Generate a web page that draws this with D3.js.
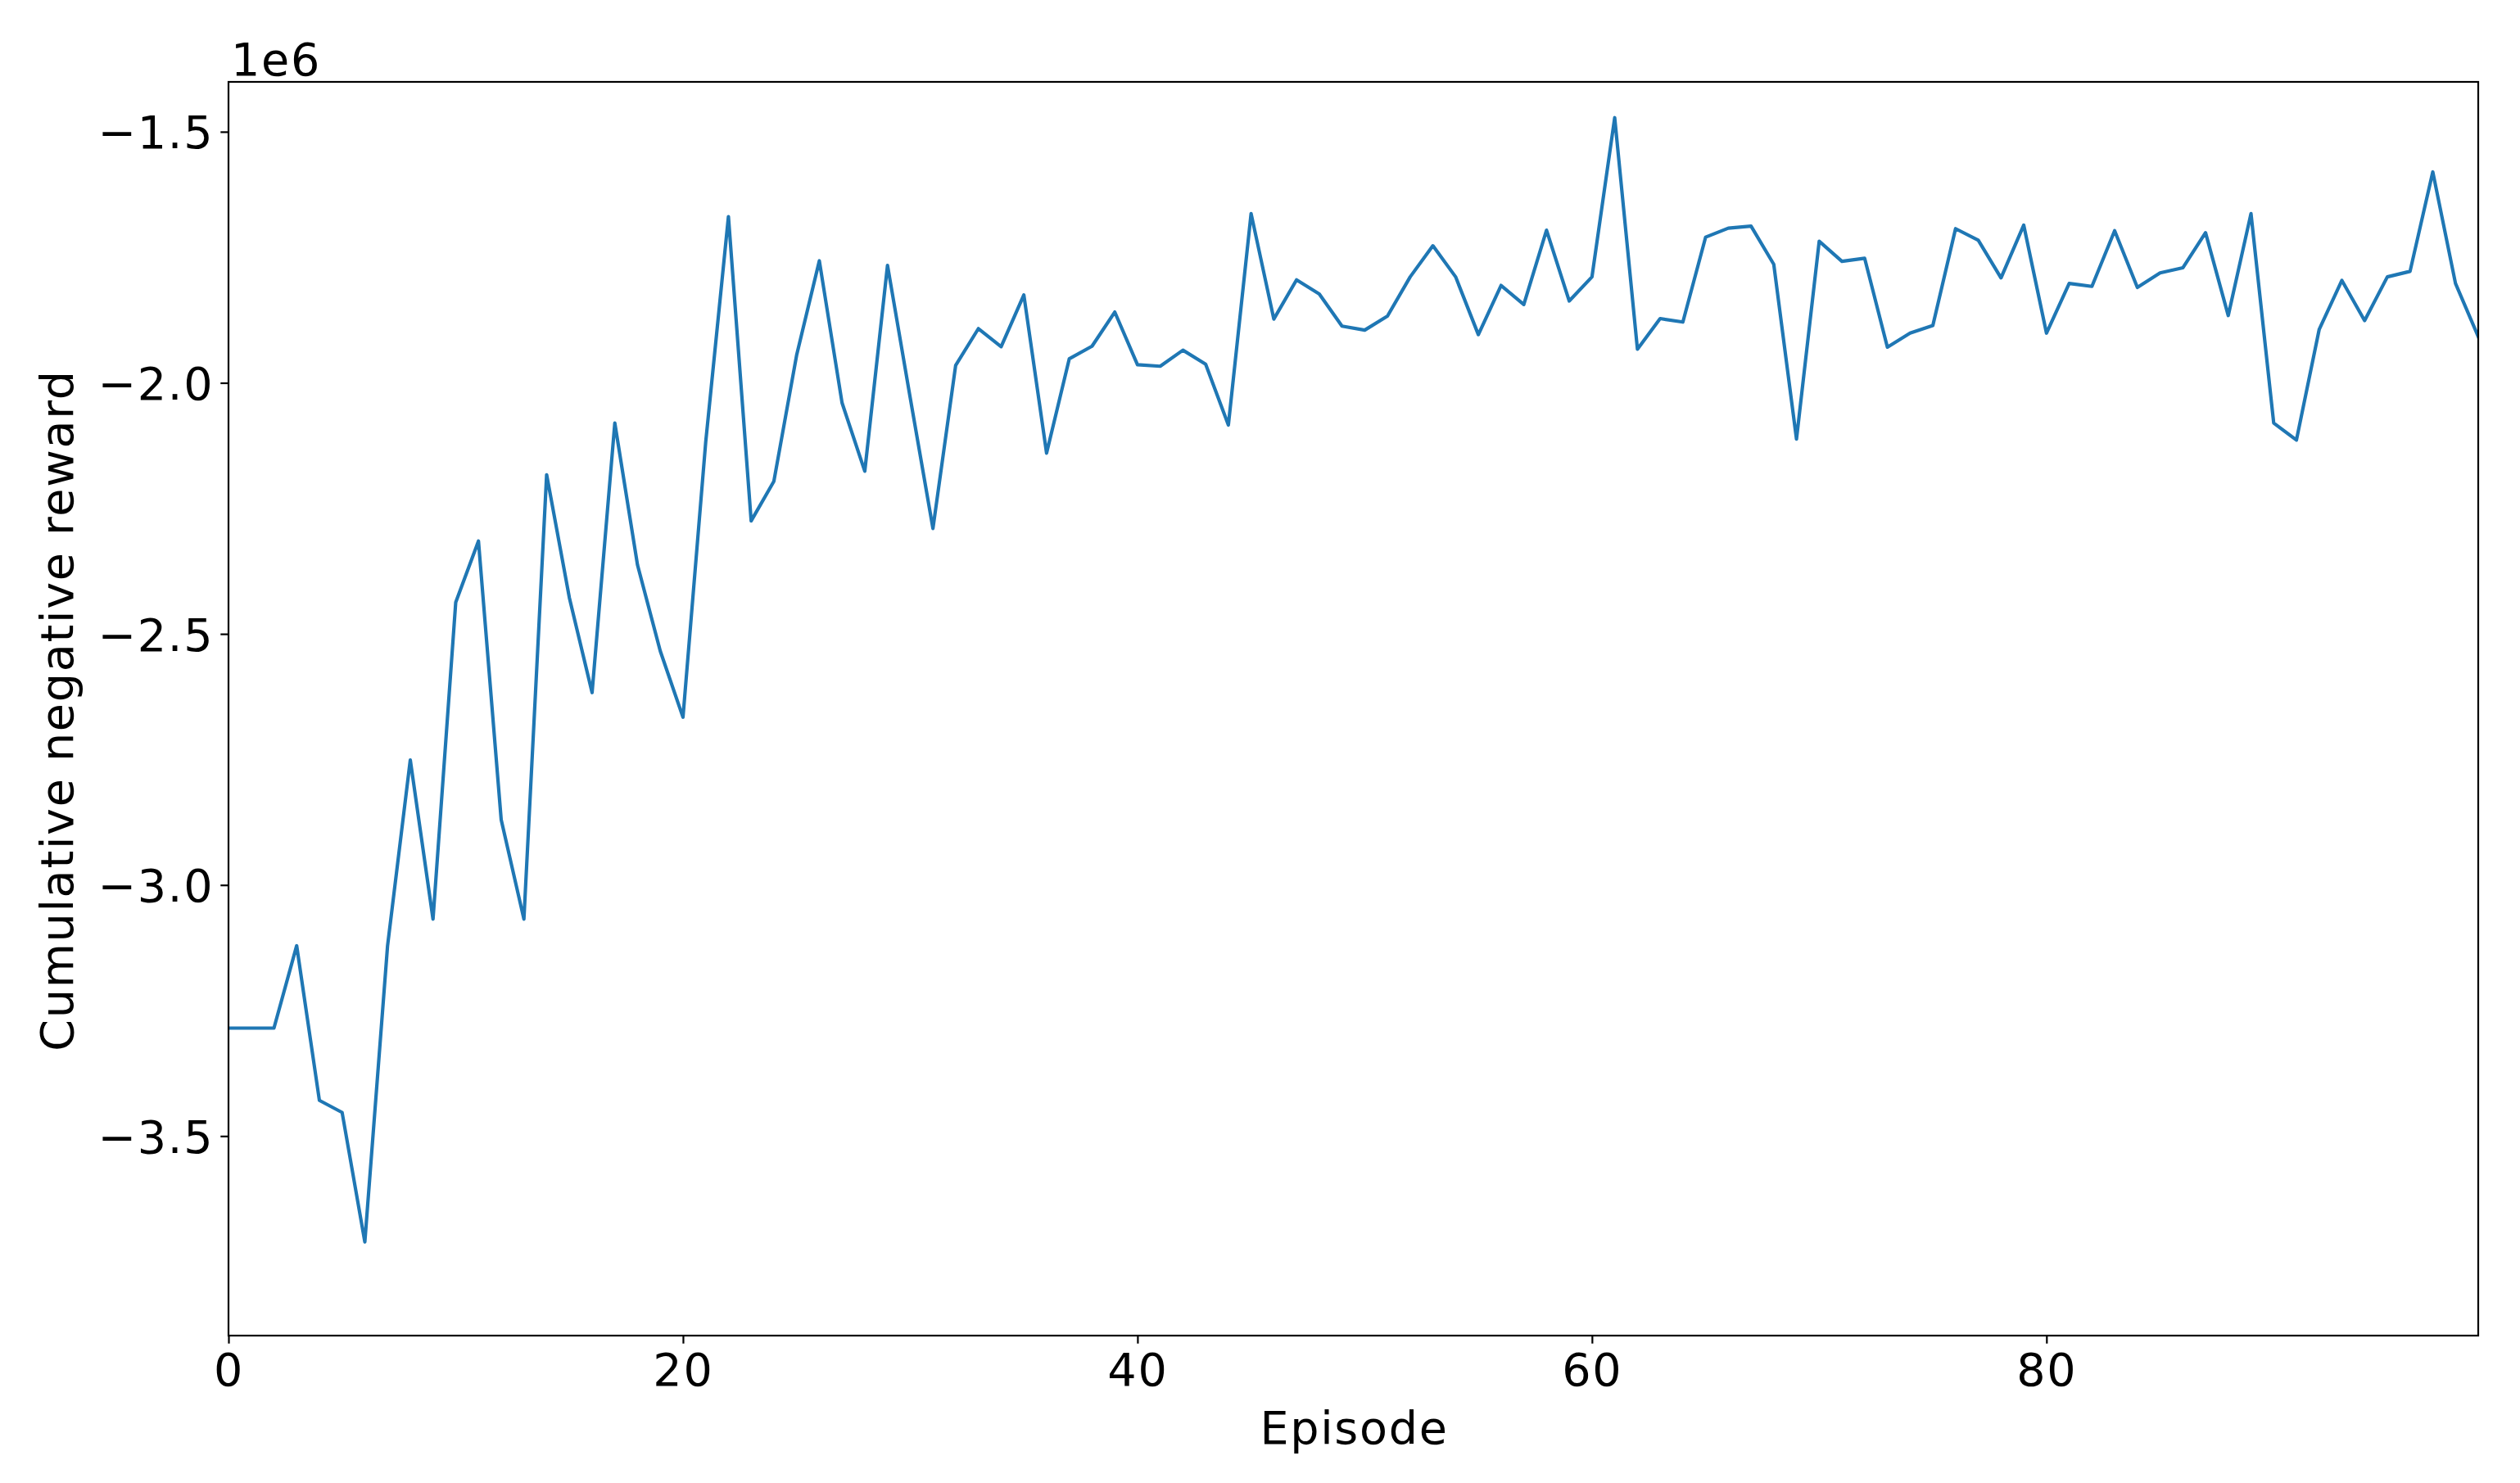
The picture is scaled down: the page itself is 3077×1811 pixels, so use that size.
<!DOCTYPE html>
<html>
<head>
<meta charset="utf-8">
<script src="https://cdn.jsdelivr.net/npm/d3@7"></script>
<style>
  html, body { margin: 0; padding: 0; background: #fff; }
  svg { display: block; }
  text { font-family: "DejaVu Sans", sans-serif; fill: #000; letter-spacing: 1.7px; }
</style>
</head>
<body>
<svg id="chart" width="3077" height="1811"></svg>
<script>
// Data (values in units of 1e6)
const episodes = d3.range(0, 100);
const rewardValues = [
  -3.285, -3.285, -3.285, -3.121, -3.429, -3.453, -3.711, -3.121, -2.751, -3.068,
  -2.437, -2.315, -2.870, -3.068, -2.183, -2.428, -2.617, -2.080, -2.363, -2.534,
  -2.666, -2.118, -1.669, -2.275, -2.196, -1.945, -1.757, -2.040, -2.176, -1.766,
  -2.030, -2.290, -1.965, -1.892, -1.928, -1.825, -2.140, -1.952, -1.927, -1.859,
  -1.964, -1.967, -1.935, -1.963, -2.084, -1.663, -1.873, -1.795, -1.823, -1.887,
  -1.895, -1.867, -1.789, -1.727, -1.789, -1.904, -1.806, -1.844, -1.696, -1.837,
  -1.789, -1.472, -1.933, -1.872, -1.879, -1.710, -1.692, -1.688, -1.764, -2.112,
  -1.718, -1.758, -1.752, -1.929, -1.901, -1.886, -1.693, -1.716, -1.791, -1.686,
  -1.901, -1.802, -1.808, -1.697, -1.810, -1.781, -1.771, -1.701, -1.866, -1.663,
  -2.080, -2.114, -1.894, -1.796, -1.876, -1.789, -1.778, -1.580, -1.802, -1.908
];
const scaleFactor = 1e6;
const xTickValues = [0, 20, 40, 60, 80];
const yTickValues = [-3.5, -3.0, -2.5, -2.0, -1.5];
const xLabel = "Episode";
const yLabel = "Cumulative negative reward";
const offsetLabel = "1e6";

const data = episodes.map((e, i) => ({ x: e, y: rewardValues[i] * scaleFactor }));

// Layout
const W = 3077, H = 1811;
const margin = { left: 279, right: W - 3026, top: 100, bottom: H - 1631 };
const pw = W - margin.left - margin.right;
const ph = H - margin.top - margin.bottom;
const fontPx = 55.6;
const tickLen = 9.7, tickPad = 9.7, spineW = 2.2;

const svg = d3.select("#chart");
const g = svg.append("g").attr("transform", `translate(${margin.left},${margin.top})`);

const x = d3.scaleLinear().domain([0, 99]).range([0, pw]);
const y = d3.scaleLinear().domain([-3.8974e6, -1.4007e6]).range([ph, 0]);

// clip
svg.append("defs").append("clipPath").attr("id", "clip")
  .append("rect").attr("width", pw).attr("height", ph);

// line
const line = d3.line().x(d => x(d.x)).y(d => y(d.y));
g.append("path")
  .datum(data)
  .attr("clip-path", "url(#clip)")
  .attr("fill", "none")
  .attr("stroke", "#1f77b4")
  .attr("stroke-width", 4.17)
  .attr("stroke-linejoin", "round")
  .attr("stroke-linecap", "square")
  .attr("d", line);

const fmtY = d => (d / scaleFactor).toFixed(1).replace("-", "\u2212");

// axes
const xAxis = d3.axisBottom(x).tickValues(xTickValues).tickSize(tickLen).tickPadding(tickPad).tickFormat(d3.format("d"));
const yAxis = d3.axisLeft(y).tickValues(yTickValues.map(v => v * scaleFactor)).tickSize(tickLen).tickPadding(tickPad).tickFormat(fmtY);

const gx = g.append("g").attr("transform", `translate(0,${ph})`).call(xAxis);
const gy = g.append("g").call(yAxis);
[gx, gy].forEach(a => {
  a.select(".domain").remove();
  a.selectAll(".tick line").attr("stroke", "#000").attr("stroke-width", spineW);
  a.selectAll(".tick text").style("font-family", "DejaVu Sans").style("font-size", fontPx + "px").attr("fill", "#000");
});
gx.selectAll(".tick text").attr("dy", null).attr("y", tickLen + tickPad).attr("dominant-baseline", "hanging");
gy.selectAll(".tick text").attr("dy", "0.36em").attr("x", -(tickLen + tickPad) + 1.7);

// frame
g.append("rect")
  .attr("x", 0).attr("y", 0).attr("width", pw).attr("height", ph)
  .attr("fill", "none").attr("stroke", "#000").attr("stroke-width", spineW);

// labels
svg.append("text")
  .attr("x", margin.left + pw / 2 + 1).attr("y", 1763)
  .attr("text-anchor", "middle")
  .style("font-size", fontPx + "px")
  .text(xLabel);

svg.append("text")
  .attr("transform", `translate(89,${margin.top + ph / 2 + 2}) rotate(-90)`)
  .attr("text-anchor", "middle")
  .style("font-size", fontPx + "px")
  .text(yLabel);

svg.append("text")
  .attr("x", margin.left + 3).attr("y", 92)
  .attr("text-anchor", "start")
  .style("font-size", fontPx + "px")
  .text(offsetLabel);
</script>
</body>
</html>
